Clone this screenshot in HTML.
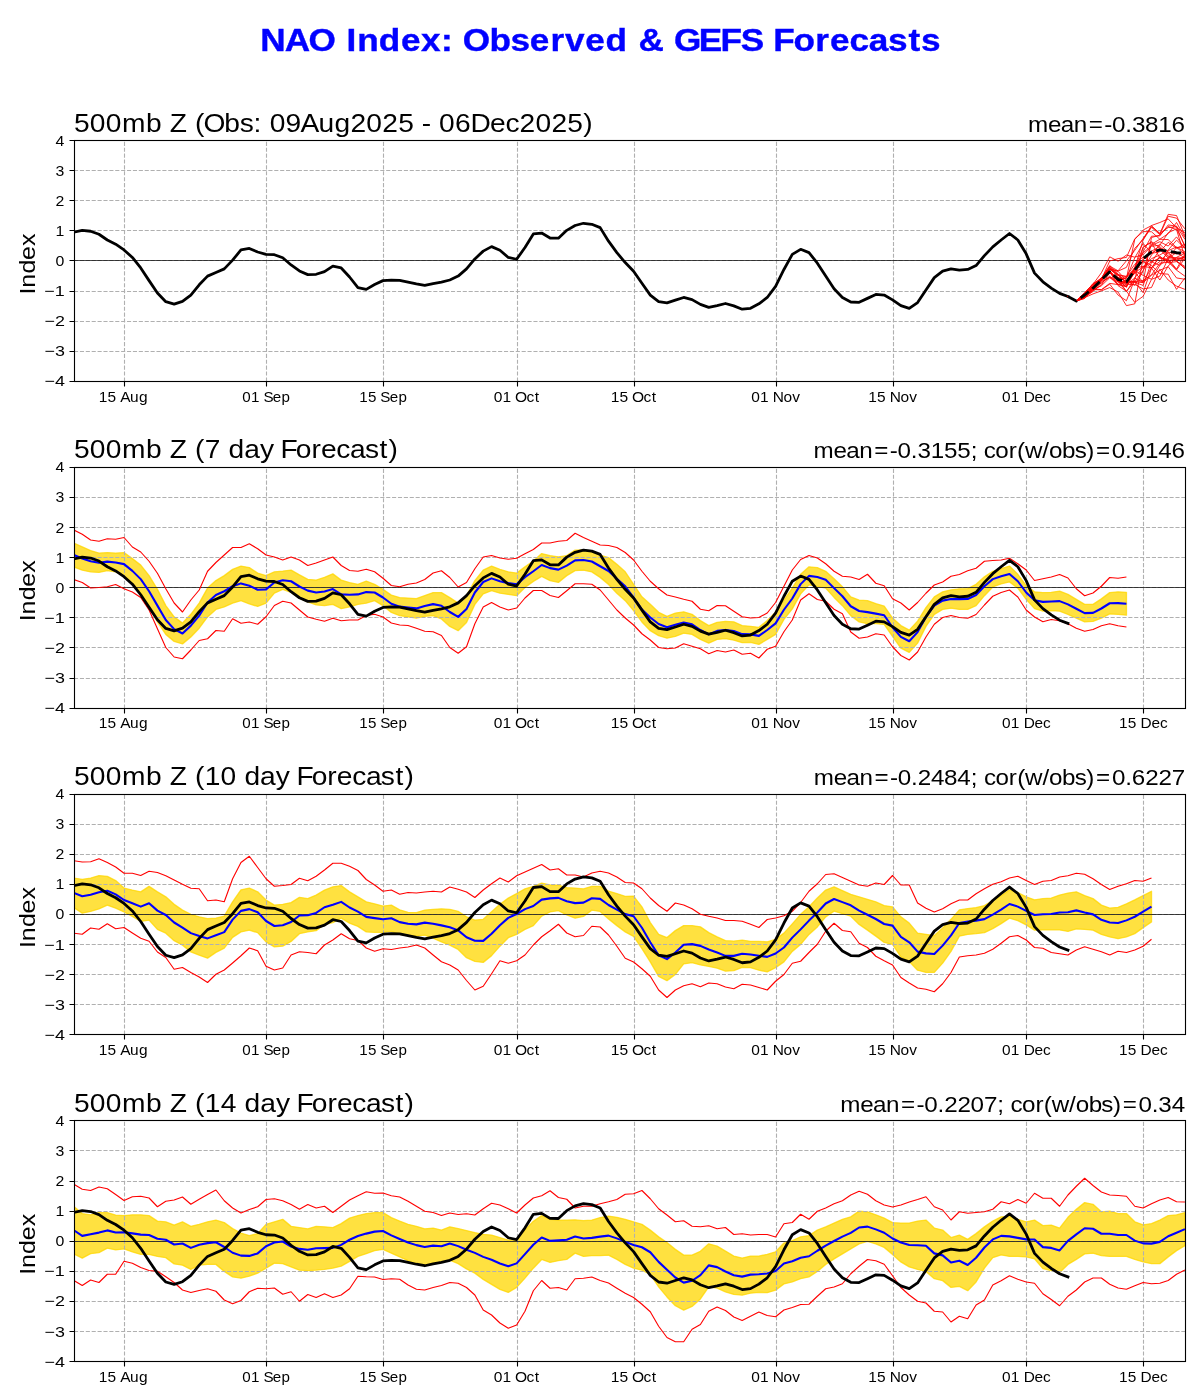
<!DOCTYPE html>
<html><head><meta charset="utf-8"><title>NAO Index: Observed &amp; GEFS Forecasts</title>
<style>html,body{margin:0;padding:0;background:#fff}body{width:1200px;height:1400px;overflow:hidden;font-family:"Liberation Sans",sans-serif}svg{display:block}</style>
</head><body>
<svg width="1200" height="1400" viewBox="0 0 1200 1400">
<rect width="1200" height="1400" fill="#fff"/>
<g>
<clipPath id="c0"><rect x="74" y="140" width="1112" height="241.5"/></clipPath>
<path d="M124.5 381.5V140.5M266.5 381.5V140.5M383.5 381.5V140.5M517.5 381.5V140.5M634.5 381.5V140.5M776.5 381.5V140.5M893.5 381.5V140.5M1026.5 381.5V140.5M1143.5 381.5V140.5M74 170.5H1185M74 200.5H1185M74 230.5H1185M74 260.5H1185M74 291.5H1185M74 321.5H1185M74 351.5H1185" stroke="#b0b0b0" stroke-width="1.11" stroke-dasharray="4.11 1.78" fill="none"/>
<path d="M74 260.5H1186" stroke="#000" stroke-width="0.72"/>
<g clip-path="url(#c0)" fill="none" stroke-linejoin="round">
<polyline points="73.9,232.16 82.25,230.35 90.61,231.25 98.96,234.26 107.31,239.98 115.67,244.2 124.02,249.92 132.37,257.44 140.73,267.98 149.08,280.62 157.43,292.96 165.79,301.69 174.14,304.1 182.49,301.39 190.85,295.07 199.2,284.83 207.55,276.1 215.91,272.49 224.26,268.88 232.61,260.15 240.97,249.92 249.32,248.41 257.67,252.02 266.03,254.43 274.38,254.73 282.73,257.74 291.09,264.97 299.44,270.99 307.79,274.6 316.15,274.3 324.5,271.59 332.85,266.17 341.21,267.98 349.56,277.01 357.92,287.54 366.27,289.35 374.62,284.53 382.98,280.62 391.33,280.02 399.68,280.32 408.04,282.12 416.39,283.93 424.74,285.43 433.1,283.63 441.45,282.12 449.8,280.02 458.16,276.1 466.51,268.88 474.86,258.95 483.22,251.12 491.57,246.6 499.92,250.22 508.28,257.44 516.63,259.25 524.98,247.51 533.34,233.96 541.69,233.06 550.04,238.03 558.4,238.18 566.75,230.35 575.1,225.53 583.46,223.28 591.81,224.33 600.16,227.64 608.52,241.19 616.87,252.62 625.22,262.56 633.58,271.29 641.93,283.33 650.28,295.07 658.64,301.69 666.99,302.89 675.34,300.18 683.7,297.47 692.05,299.58 700.4,304.4 708.76,307.41 717.11,305.6 725.46,303.49 733.82,305.9 742.17,309.21 750.52,308.31 758.88,303.79 767.23,297.47 775.58,286.34 783.94,269.48 792.29,254.43 800.64,249.31 809,252.62 817.35,263.16 825.7,276.1 834.06,288.74 842.41,297.47 850.76,301.99 859.12,302.29 867.47,298.38 875.82,294.46 884.18,295.07 892.53,299.88 900.88,305.6 909.24,308.31 917.59,302.59 925.95,289.95 934.3,277.61 942.65,271.14 951.01,268.88 959.36,270.08 967.71,269.48 976.07,265.57 984.42,255.63 992.77,246.91 1001.13,239.98 1009.48,233.51 1017.83,239.98 1026.19,253.83 1034.54,273.09 1042.89,281.82 1051.25,288.14 1059.6,293.41 1067.95,296.57" stroke="#000" stroke-width="2.78" stroke-linecap="square"/>
<polyline points="1067.95,296.6 1076.31,301 1084.66,296.5 1093.01,288.45 1101.37,281.46 1109.72,277.22 1118.07,284.86 1126.43,286.76 1134.78,270.68 1143.13,275.4 1151.49,279.26 1159.84,265.35 1168.19,258.11 1176.55,247.42 1184.9,247.16" stroke="#f00" stroke-width="0.85"/>
<polyline points="1067.95,296.6 1076.31,301 1084.66,295.09 1093.01,285.21 1101.37,277.72 1109.72,271.09 1118.07,280.54 1126.43,282.87 1134.78,272.5 1143.13,267.01 1151.49,258.61 1159.84,255 1168.19,250.01 1176.55,240.19 1184.9,248.16" stroke="#f00" stroke-width="0.85"/>
<polyline points="1067.95,296.6 1076.31,301 1084.66,297.63 1093.01,293.89 1101.37,290.88 1109.72,287.56 1118.07,292.04 1126.43,305.64 1134.78,303.83 1143.13,258.07 1151.49,251.21 1159.84,246.44 1168.19,256 1176.55,260.34 1184.9,256.94" stroke="#f00" stroke-width="0.85"/>
<polyline points="1067.95,296.6 1076.31,301 1084.66,294.94 1093.01,288.07 1101.37,280.99 1109.72,271.95 1118.07,281.42 1126.43,277.36 1134.78,267.63 1143.13,252.82 1151.49,245.52 1159.84,241.72 1168.19,246.04 1176.55,236.89 1184.9,248.55" stroke="#f00" stroke-width="0.85"/>
<polyline points="1067.95,296.6 1076.31,301 1084.66,293.47 1093.01,284.29 1101.37,278.05 1109.72,266.16 1118.07,270.79 1126.43,260.83 1134.78,250.32 1143.13,238.46 1151.49,226.73 1159.84,233.27 1168.19,227.56 1176.55,226.73 1184.9,246.77" stroke="#f00" stroke-width="0.85"/>
<polyline points="1067.95,296.6 1076.31,301 1084.66,297.23 1093.01,289.37 1101.37,279.73 1109.72,269.15 1118.07,271.11 1126.43,267.36 1134.78,248.33 1143.13,239.48 1151.49,225.5 1159.84,222.49 1168.19,218.9 1176.55,227.82 1184.9,232.62" stroke="#f00" stroke-width="0.85"/>
<polyline points="1067.95,296.6 1076.31,301 1084.66,294.44 1093.01,285.4 1101.37,279.37 1109.72,261 1118.07,258.64 1126.43,257.44 1134.78,238.76 1143.13,231.59 1151.49,231.75 1159.84,239.22 1168.19,233.7 1176.55,222.47 1184.9,237.49" stroke="#f00" stroke-width="0.85"/>
<polyline points="1067.95,296.6 1076.31,301 1084.66,294.39 1093.01,287.9 1101.37,278.49 1109.72,265.48 1118.07,273.79 1126.43,282.62 1134.78,281.84 1143.13,270.5 1151.49,255.04 1159.84,244.33 1168.19,252.15 1176.55,253.91 1184.9,252.24" stroke="#f00" stroke-width="0.85"/>
<polyline points="1067.95,296.6 1076.31,301 1084.66,298.3 1093.01,289.75 1101.37,278.96 1109.72,267.05 1118.07,277.55 1126.43,281.15 1134.78,267.81 1143.13,239.89 1151.49,227.25 1159.84,234.73 1168.19,216.26 1176.55,218.14 1184.9,228.82" stroke="#f00" stroke-width="0.85"/>
<polyline points="1067.95,296.6 1076.31,301 1084.66,296.41 1093.01,288.67 1101.37,279.25 1109.72,269.05 1118.07,274.5 1126.43,283.26 1134.78,281.44 1143.13,280.54 1151.49,274.7 1159.84,263.3 1168.19,262.11 1176.55,258.33 1184.9,259.66" stroke="#f00" stroke-width="0.85"/>
<polyline points="1067.95,296.6 1076.31,301 1084.66,295.09 1093.01,288.14 1101.37,279.1 1109.72,271.68 1118.07,279.37 1126.43,287.18 1134.78,267.73 1143.13,247.44 1151.49,241.6 1159.84,247.97 1168.19,256.87 1176.55,257.68 1184.9,258.14" stroke="#f00" stroke-width="0.85"/>
<polyline points="1067.95,296.6 1076.31,301 1084.66,292.38 1093.01,284.01 1101.37,280.02 1109.72,269.15 1118.07,275.09 1126.43,282.91 1134.78,272.26 1143.13,282.29 1151.49,237.54 1159.84,235.13 1168.19,226.44 1176.55,229.62 1184.9,257.14" stroke="#f00" stroke-width="0.85"/>
<polyline points="1067.95,296.6 1076.31,301 1084.66,296.63 1093.01,288.96 1101.37,289.64 1109.72,283.39 1118.07,284.59 1126.43,281.83 1134.78,281.82 1143.13,292.68 1151.49,268.22 1159.84,256.58 1168.19,261.95 1176.55,270.14 1184.9,276.18" stroke="#f00" stroke-width="0.85"/>
<polyline points="1067.95,296.6 1076.31,301 1084.66,298.41 1093.01,289.16 1101.37,280.19 1109.72,267.32 1118.07,274.48 1126.43,276.83 1134.78,270.16 1143.13,261.63 1151.49,267.97 1159.84,280.03 1168.19,266.07 1176.55,257.29 1184.9,253.23" stroke="#f00" stroke-width="0.85"/>
<polyline points="1067.95,296.6 1076.31,301 1084.66,293.67 1093.01,286.61 1101.37,278.22 1109.72,270.61 1118.07,280.07 1126.43,291.13 1134.78,302.34 1143.13,296.3 1151.49,279.38 1159.84,276.13 1168.19,258.71 1176.55,259.55 1184.9,256.88" stroke="#f00" stroke-width="0.85"/>
<polyline points="1067.95,296.6 1076.31,301 1084.66,294.52 1093.01,288.87 1101.37,280 1109.72,272.88 1118.07,277.69 1126.43,278.09 1134.78,257.77 1143.13,243.46 1151.49,252.95 1159.84,248.29 1168.19,253.61 1176.55,261.41 1184.9,266.43" stroke="#f00" stroke-width="0.85"/>
<polyline points="1067.95,296.6 1076.31,301 1084.66,293.92 1093.01,283.34 1101.37,279.06 1109.72,271.78 1118.07,285.65 1126.43,291.19 1134.78,281.66 1143.13,282.71 1151.49,267.6 1159.84,261.57 1168.19,252.37 1176.55,260.51 1184.9,268.79" stroke="#f00" stroke-width="0.85"/>
<polyline points="1067.95,296.6 1076.31,301 1084.66,294.86 1093.01,286.57 1101.37,278.59 1109.72,269.32 1118.07,275.58 1126.43,276.24 1134.78,264.29 1143.13,256.92 1151.49,261.89 1159.84,265.32 1168.19,250.67 1176.55,247 1184.9,251.9" stroke="#f00" stroke-width="0.85"/>
<polyline points="1067.95,296.6 1076.31,301 1084.66,295.02 1093.01,288.13 1101.37,280.62 1109.72,272.18 1118.07,279.44 1126.43,284.39 1134.78,284.45 1143.13,288.88 1151.49,287.56 1159.84,269.35 1168.19,280.03 1176.55,286.12 1184.9,289.37" stroke="#f00" stroke-width="0.85"/>
<polyline points="1067.95,296.6 1076.31,301 1084.66,295.5 1093.01,288.07 1101.37,279.79 1109.72,271.83 1118.07,280.32 1126.43,283.43 1134.78,267.75 1143.13,261 1151.49,265.55 1159.84,273.58 1168.19,274.17 1176.55,289.37 1184.9,277.93" stroke="#f00" stroke-width="0.85"/>
<polyline points="1067.95,296.6 1076.31,301 1084.66,294.89 1093.01,286.05 1101.37,279.08 1109.72,268.34 1118.07,271.39 1126.43,280.67 1134.78,282.24 1143.13,285.44 1151.49,262.34 1159.84,249.45 1168.19,258.27 1176.55,252.54 1184.9,258.01" stroke="#f00" stroke-width="0.85"/>
<polyline points="1067.95,296.6 1076.31,301 1084.66,295.82 1093.01,289.56 1101.37,289.96 1109.72,284.15 1118.07,295.09 1126.43,300.73 1134.78,279.37 1143.13,246.94 1151.49,242.4 1159.84,258.03 1168.19,259.09 1176.55,269.03 1184.9,254.16" stroke="#f00" stroke-width="0.85"/>
<polyline points="1067.95,296.6 1076.31,301 1084.66,294.93 1093.01,287.16 1101.37,277.91 1109.72,272.14 1118.07,281.06 1126.43,285.07 1134.78,277.87 1143.13,267.38 1151.49,261.92 1159.84,258 1168.19,260.26 1176.55,269.96 1184.9,258.37" stroke="#f00" stroke-width="0.85"/>
<polyline points="1067.95,296.6 1076.31,301 1084.66,294.62 1093.01,288.63 1101.37,281.02 1109.72,271.84 1118.07,282.19 1126.43,281.61 1134.78,273.51 1143.13,259.51 1151.49,253.34 1159.84,251.78 1168.19,242.37 1176.55,248.26 1184.9,244.31" stroke="#f00" stroke-width="0.85"/>
<polyline points="1067.95,296.6 1076.31,301 1084.66,297.5 1093.01,289.38 1101.37,285.8 1109.72,277.74 1118.07,282.04 1126.43,281.12 1134.78,285.44 1143.13,271.17 1151.49,244.22 1159.84,239.26 1168.19,239.58 1176.55,247.56 1184.9,254.15" stroke="#f00" stroke-width="0.85"/>
<polyline points="1067.95,296.6 1076.31,301 1084.66,297.42 1093.01,290.86 1101.37,285.12 1109.72,272.65 1118.07,281.02 1126.43,291.79 1134.78,278.14 1143.13,282.55 1151.49,275.32 1159.84,270.2 1168.19,266.72 1176.55,277.94 1184.9,279.28" stroke="#f00" stroke-width="0.85"/>
<polyline points="1067.95,296.6 1076.31,301 1084.66,293.19 1093.01,284.28 1101.37,272.8 1109.72,256.83 1118.07,261.19 1126.43,255.03 1134.78,257.15 1143.13,254.61 1151.49,246.32 1159.84,245.13 1168.19,232.74 1176.55,228.82 1184.9,245.68" stroke="#f00" stroke-width="0.85"/>
<polyline points="1067.95,296.6 1076.31,301 1084.66,295 1093.01,288.13 1101.37,279.27 1109.72,271.63 1118.07,280.4 1126.43,287.03 1134.78,271.08 1143.13,251.71 1151.49,236.21 1159.84,235.93 1168.19,224.95 1176.55,226.14 1184.9,239.39" stroke="#f00" stroke-width="0.85"/>
<polyline points="1067.95,296.6 1076.31,301 1084.66,296.99 1093.01,291.56 1101.37,282.97 1109.72,276.11 1118.07,284.07 1126.43,286.13 1134.78,268.23 1143.13,266.36 1151.49,267.77 1159.84,256.58 1168.19,262.75 1176.55,261.65 1184.9,267.72" stroke="#f00" stroke-width="0.85"/>
<polyline points="1067.95,296.6 1076.31,301 1084.66,297.03 1093.01,289.07 1101.37,282.87 1109.72,277.18 1118.07,279.13 1126.43,278.4 1134.78,239.41 1143.13,230.02 1151.49,225.61 1159.84,233.67 1168.19,214.36 1176.55,215.56 1184.9,235.92" stroke="#f00" stroke-width="0.85"/>
<polyline points="1067.95,296.6 1076.31,301 1084.66,295 1093.01,288.13 1101.37,280 1109.72,271.87 1118.07,279.37 1126.43,281.87 1134.78,270 1143.13,258.76 1151.49,251.86 1159.84,250 1168.19,251.26 1176.55,252.74 1184.9,253.22" stroke="#000" stroke-width="2.78" stroke-dasharray="10.3 4.45"/>
</g>
<rect x="74.5" y="140.5" width="1111" height="241" fill="none" stroke="#000" stroke-width="1.11"/>
<path d="M124.5 381.5v5M266.5 381.5v5M383.5 381.5v5M517.5 381.5v5M634.5 381.5v5M776.5 381.5v5M893.5 381.5v5M1026.5 381.5v5M1143.5 381.5v5M74.5 140.5h-5M74.5 170.5h-5M74.5 200.5h-5M74.5 230.5h-5M74.5 260.5h-5M74.5 291.5h-5M74.5 321.5h-5M74.5 351.5h-5M74.5 381.5h-5" stroke="#000" stroke-width="1.11" fill="none"/>
</g>
<g>
<clipPath id="c1"><rect x="74" y="467" width="1112" height="241.5"/></clipPath>
<polygon points="73.9,543.1 82.25,546.85 90.61,550.6 98.96,553.1 107.31,552.6 115.67,553.1 124.02,552.6 132.37,558.6 140.73,565.1 149.08,575.6 157.43,589.35 165.79,605.6 174.14,616.85 182.49,623.1 190.85,614.35 199.2,603.1 207.55,588.1 215.91,580.6 224.26,575.6 232.61,569.35 240.97,566.1 249.32,567.6 257.67,573.1 266.03,575.6 274.38,571.85 282.73,571.1 291.09,570.1 299.44,574.85 307.79,579.35 316.15,580.1 324.5,577.35 332.85,573.85 341.21,580.1 349.56,582.6 357.92,584.35 366.27,581.1 374.62,584.35 382.98,589.35 391.33,595.1 399.68,597.6 408.04,598.1 416.39,598.6 424.74,595.6 433.1,592.6 441.45,592.6 449.8,597.6 458.16,603.1 466.51,595.6 474.86,580.6 483.22,570.1 491.57,566.1 499.92,569.35 508.28,571.85 516.63,573.1 524.98,566.85 533.34,561.1 541.69,553.6 550.04,555.6 558.4,556.85 566.75,555.6 575.1,550.1 583.46,549.85 591.81,551.1 600.16,555.1 608.52,557.6 616.87,564.35 625.22,571.85 633.58,584.35 641.93,596.85 650.28,604.35 658.64,612.35 666.99,616.35 675.34,613.1 683.7,611.85 692.05,614.35 700.4,620.6 708.76,625.6 717.11,622.35 725.46,621.35 733.82,621.85 742.17,625.6 750.52,626.35 758.88,627.35 767.23,620.6 775.58,612.35 783.94,600.1 792.29,588.1 800.64,574.35 809,566.85 817.35,567.6 825.7,571.35 834.06,578.85 842.41,586.85 850.76,596.85 859.12,600.1 867.47,600.6 875.82,603.6 884.18,606.1 892.53,618.1 900.88,625.6 909.24,630.1 917.59,621.1 925.95,607.6 934.3,596.85 942.65,591.85 951.01,589.85 959.36,588.85 967.71,588.6 976.07,584.35 984.42,576.85 992.77,571.35 1001.13,568.6 1009.48,566.1 1017.83,574.35 1026.19,585.6 1034.54,591.85 1042.89,592.6 1051.25,592.35 1059.6,591.1 1067.95,594.35 1076.31,599.35 1084.66,604.35 1093.01,604.35 1101.37,598.85 1109.72,592.6 1118.07,591.85 1126.43,592.35 1126.43,615.15 1118.07,614.4 1109.72,613.9 1101.37,618.15 1093.01,621.4 1084.66,621.9 1076.31,618.15 1067.95,614.4 1059.6,611.15 1051.25,610.65 1042.89,611.15 1034.54,608.65 1026.19,599.4 1017.83,588.15 1009.48,581.9 1001.13,583.9 992.77,586.9 984.42,595.65 976.07,605.65 967.71,609.4 959.36,609.4 951.01,608.15 942.65,609.4 934.3,614.4 925.95,626.4 917.59,643.15 909.24,652.4 900.88,648.15 892.53,636.4 884.18,624.4 875.82,623.65 867.47,623.65 859.12,621.9 850.76,615.65 842.41,605.65 834.06,597.4 825.7,588.15 817.35,586.4 809,584.9 800.64,593.9 792.29,608.9 783.94,619.4 775.58,634.4 767.23,639.4 758.88,644.4 750.52,642.4 742.17,642.65 733.82,640.15 725.46,638.65 717.11,639.4 708.76,643.15 700.4,639.4 692.05,634.4 683.7,633.15 675.34,636.4 666.99,638.15 658.64,635.65 650.28,630.65 641.93,621.9 633.58,610.65 625.22,600.65 616.87,593.15 608.52,584.4 600.16,577.4 591.81,571.9 583.46,570.15 575.1,570.65 566.75,575.65 558.4,582.4 550.04,580.65 541.69,576.4 533.34,581.4 524.98,587.4 516.63,595.65 508.28,594.4 499.92,593.15 491.57,590.65 483.22,593.9 474.86,604.4 466.51,622.4 458.16,630.65 449.8,626.4 441.45,618.9 433.1,615.65 424.74,616.4 416.39,618.15 408.04,616.9 399.68,615.65 391.33,612.4 382.98,605.65 374.62,600.65 366.27,603.15 357.92,604.4 349.56,606.9 341.21,608.65 332.85,604.4 324.5,605.65 316.15,604.9 307.79,601.9 299.44,598.15 291.09,592.4 282.73,589.4 274.38,593.15 266.03,603.15 257.67,606.4 249.32,603.9 240.97,600.65 232.61,603.15 224.26,606.9 215.91,609.4 207.55,616.9 199.2,628.15 190.85,636.9 182.49,643.9 174.14,641.4 165.79,634.4 157.43,621.9 149.08,606.9 140.73,593.15 132.37,583.15 124.02,575.65 115.67,571.9 107.31,570.65 98.96,572.4 90.61,571.9 82.25,570.15 73.9,566.9" fill="#ffd700" fill-opacity="0.75" stroke="#ffd700" stroke-opacity="0.75" stroke-width="1.39" stroke-linejoin="round" clip-path="url(#c1)"/>
<path d="M124.5 708.5V467.5M266.5 708.5V467.5M383.5 708.5V467.5M517.5 708.5V467.5M634.5 708.5V467.5M776.5 708.5V467.5M893.5 708.5V467.5M1026.5 708.5V467.5M1143.5 708.5V467.5M74 497.5H1185M74 527.5H1185M74 557.5H1185M74 587.5H1185M74 617.5H1185M74 647.5H1185M74 678.5H1185" stroke="#b0b0b0" stroke-width="1.11" stroke-dasharray="4.11 1.78" fill="none"/>
<path d="M74 587.5H1186" stroke="#000" stroke-width="0.72"/>
<g clip-path="url(#c1)" fill="none" stroke-linejoin="round">
<polyline points="73.9,530 82.25,534.25 90.61,540 98.96,541.25 107.31,538.75 115.67,539.25 124.02,537.5 132.37,547 140.73,552 149.08,561.25 157.43,573.25 165.79,588.75 174.14,603 182.49,612 190.85,600 199.2,590 207.55,571.25 215.91,562.5 224.26,555 232.61,547.5 240.97,547.5 249.32,543.75 257.67,548.75 266.03,555 274.38,557 282.73,560 291.09,557 299.44,560 307.79,565.5 316.15,563 324.5,560 332.85,557 341.21,565.5 349.56,570.5 357.92,571.25 366.27,569.25 374.62,571.75 382.98,578.25 391.33,585.5 399.68,586.75 408.04,584.25 416.39,583 424.74,579.5 433.1,573 441.45,570.75 449.8,577.5 458.16,587 466.51,582.5 474.86,568.75 483.22,557 491.57,555.5 499.92,558 508.28,559.25 516.63,558.25 524.98,553.75 533.34,549.5 541.69,543 550.04,543 558.4,541.25 566.75,540.5 575.1,533.25 583.46,537.5 591.81,541.25 600.16,545 608.52,545.5 616.87,547.5 625.22,552.5 633.58,560 641.93,571.25 650.28,581.25 658.64,588.75 666.99,595 675.34,597 683.7,599.25 692.05,601.25 700.4,609.25 708.76,610.75 717.11,605.5 725.46,605.75 733.82,611.25 742.17,616.75 750.52,618 758.88,617.5 767.23,613 775.58,602.5 783.94,586.25 792.29,570 800.64,559.5 809,555.5 817.35,558 825.7,563.75 834.06,571.25 842.41,576.25 850.76,577 859.12,579.5 867.47,574.25 875.82,583.25 884.18,585.75 892.53,598.75 900.88,603 909.24,610 917.59,602.5 925.95,593.25 934.3,585 942.65,582 951.01,576.25 959.36,574.5 967.71,570.75 976.07,568.25 984.42,561.25 992.77,560.5 1001.13,560 1009.48,558.25 1017.83,563.75 1026.19,570 1034.54,580.5 1042.89,578.75 1051.25,577 1059.6,574.5 1067.95,578 1076.31,588.75 1084.66,595.75 1093.01,593 1101.37,586.25 1109.72,577.5 1118.07,578.25 1126.43,577" stroke="#f00" stroke-width="1.11"/>
<polyline points="73.9,579.5 82.25,582.5 90.61,588 98.96,587.5 107.31,586.75 115.67,584.5 124.02,588.75 132.37,592 140.73,597.5 149.08,610 157.43,628.75 165.79,647.5 174.14,657 182.49,658.75 190.85,650 199.2,640.5 207.55,638.75 215.91,630.5 224.26,631.25 232.61,618.75 240.97,623.25 249.32,622 257.67,624.25 266.03,616.75 274.38,605.5 282.73,601.25 291.09,603 299.44,610 307.79,617 316.15,619.25 324.5,621.25 332.85,618.25 341.21,620.75 349.56,620 357.92,620 366.27,615.5 374.62,614.25 382.98,617 391.33,623 399.68,625 408.04,625.5 416.39,628.25 424.74,631.25 433.1,631.75 441.45,635.5 449.8,647.5 458.16,653.25 466.51,646.75 474.86,623.75 483.22,607 491.57,602.5 499.92,607 508.28,610 516.63,608 524.98,598 533.34,590.5 541.69,590.5 550.04,595.5 558.4,597.5 566.75,590.75 575.1,583.75 583.46,583.75 591.81,584.25 600.16,590 608.52,600 616.87,610 625.22,618 633.58,625 641.93,633.75 650.28,640 658.64,647.5 666.99,648.75 675.34,648 683.7,643.75 692.05,646.25 700.4,648.75 708.76,653.75 717.11,650.5 725.46,652 733.82,650 742.17,654.25 750.52,653.25 758.88,658 767.23,649.25 775.58,646.25 783.94,631.75 792.29,620 800.64,600 809,593.75 817.35,599.5 825.7,601.25 834.06,609.25 842.41,613.75 850.76,632 859.12,638.25 867.47,637 875.82,633.75 884.18,635 892.53,646.75 900.88,655.5 909.24,660 917.59,652 925.95,637 934.3,624.25 942.65,617.5 951.01,615.5 959.36,617.5 967.71,618.25 976.07,614.5 984.42,605 992.77,596.25 1001.13,592.5 1009.48,590 1017.83,597 1026.19,610 1034.54,617 1042.89,621.75 1051.25,619.5 1059.6,620.75 1067.95,623.75 1076.31,628.25 1084.66,631.25 1093.01,629.5 1101.37,625.75 1109.72,623.75 1118.07,625.75 1126.43,627" stroke="#f00" stroke-width="1.11"/>
<polyline points="73.9,555 82.25,558.5 90.61,561.25 98.96,562.75 107.31,561.62 115.67,562.5 124.02,564.12 132.37,570.88 140.73,579.12 149.08,591.25 157.43,605.62 165.79,620 174.14,629.12 182.49,633.5 190.85,625.62 199.2,615.62 207.55,602.5 215.91,595 224.26,591.25 232.61,586.25 240.97,583.38 249.32,585.75 257.67,589.75 266.03,589.38 274.38,582.5 282.73,580.25 291.09,581.25 299.44,586.5 307.79,590.62 316.15,592.5 324.5,591.5 332.85,589.12 341.21,594.38 349.56,594.75 357.92,594.38 366.27,592.12 374.62,592.5 382.98,597.5 391.33,603.75 399.68,606.62 408.04,607.5 416.39,608.38 424.74,606 433.1,604.12 441.45,605.75 449.8,612 458.16,616.88 466.51,609 474.86,592.5 483.22,582 491.57,578.38 499.92,581.25 508.28,583.12 516.63,584.38 524.98,577.12 533.34,571.25 541.69,565 550.04,568.12 558.4,569.62 566.75,565.62 575.1,560.38 583.46,560 591.81,561.5 600.16,566.25 608.52,571 616.87,578.75 625.22,586.25 633.58,597.5 641.93,609.38 650.28,617.5 658.64,624 666.99,627.25 675.34,624.75 683.7,622.5 692.05,624.38 700.4,630 708.76,634.38 717.11,630.88 725.46,630 733.82,631 742.17,634.12 750.52,634.38 758.88,635.88 767.23,630 775.58,623.38 783.94,609.75 792.29,598.5 800.64,584.12 809,575.88 817.35,577 825.7,579.75 834.06,588.12 842.41,596.25 850.76,606.25 859.12,611 867.47,612.12 875.82,613.62 884.18,615.25 892.53,627.25 900.88,636.88 909.24,641.25 917.59,632.12 925.95,617 934.3,605.62 942.65,600.62 951.01,599 959.36,599.12 967.71,599 976.07,595 984.42,586.25 992.77,579.12 1001.13,576.25 1009.48,574 1017.83,581.25 1026.19,592.5 1034.54,600.25 1042.89,601.88 1051.25,601.5 1059.6,601.12 1067.95,604.38 1076.31,608.75 1084.66,613.12 1093.01,612.88 1101.37,608.5 1109.72,603.25 1118.07,603.12 1126.43,603.75" stroke="#00f" stroke-width="2.08"/>
<polyline points="73.9,558.93 82.25,557.12 90.61,558.02 98.96,561.03 107.31,566.75 115.67,570.97 124.02,576.69 132.37,584.21 140.73,594.75 149.08,607.39 157.43,619.73 165.79,628.46 174.14,630.87 182.49,628.16 190.85,621.84 199.2,611.6 207.55,602.87 215.91,599.26 224.26,595.65 232.61,586.92 240.97,576.69 249.32,575.18 257.67,578.79 266.03,581.2 274.38,581.5 282.73,584.51 291.09,591.74 299.44,597.75 307.79,601.37 316.15,601.07 324.5,598.36 332.85,592.94 341.21,594.75 349.56,603.77 357.92,614.31 366.27,616.12 374.62,611.3 382.98,607.39 391.33,606.79 399.68,607.09 408.04,608.89 416.39,610.7 424.74,612.2 433.1,610.4 441.45,608.89 449.8,606.79 458.16,602.87 466.51,595.65 474.86,585.72 483.22,577.89 491.57,573.37 499.92,576.99 508.28,584.21 516.63,586.02 524.98,574.28 533.34,560.73 541.69,559.83 550.04,564.8 558.4,564.95 566.75,557.12 575.1,552.3 583.46,550.05 591.81,551.1 600.16,554.41 608.52,567.96 616.87,579.39 625.22,589.33 633.58,598.06 641.93,610.1 650.28,621.84 658.64,628.46 666.99,629.66 675.34,626.95 683.7,624.24 692.05,626.35 700.4,631.17 708.76,634.18 717.11,632.37 725.46,630.26 733.82,632.67 742.17,635.98 750.52,635.08 758.88,630.56 767.23,624.24 775.58,613.11 783.94,596.25 792.29,581.2 800.64,576.08 809,579.39 817.35,589.93 825.7,602.87 834.06,615.51 842.41,624.24 850.76,628.76 859.12,629.06 867.47,625.15 875.82,621.23 884.18,621.84 892.53,626.65 900.88,632.37 909.24,635.08 917.59,629.36 925.95,616.72 934.3,604.38 942.65,597.91 951.01,595.65 959.36,596.85 967.71,596.25 976.07,592.34 984.42,582.4 992.77,573.68 1001.13,566.75 1009.48,560.28 1017.83,566.75 1026.19,580.6 1034.54,599.86 1042.89,608.59 1051.25,614.91 1059.6,620.18 1067.95,623.34" stroke="#000" stroke-width="2.78" stroke-linecap="square"/>
</g>
<rect x="74.5" y="467.5" width="1111" height="241" fill="none" stroke="#000" stroke-width="1.11"/>
<path d="M124.5 708.5v5M266.5 708.5v5M383.5 708.5v5M517.5 708.5v5M634.5 708.5v5M776.5 708.5v5M893.5 708.5v5M1026.5 708.5v5M1143.5 708.5v5M74.5 467.5h-5M74.5 497.5h-5M74.5 527.5h-5M74.5 557.5h-5M74.5 587.5h-5M74.5 617.5h-5M74.5 647.5h-5M74.5 678.5h-5M74.5 708.5h-5" stroke="#000" stroke-width="1.11" fill="none"/>
</g>
<g>
<clipPath id="c2"><rect x="74" y="794" width="1112" height="240.5"/></clipPath>
<polygon points="73.9,878.1 82.25,879.35 90.61,878.1 98.96,875.6 107.31,876.35 115.67,880.6 124.02,888.1 132.37,890.1 140.73,891.85 149.08,886.35 157.43,891.85 165.79,896.85 174.14,904.35 182.49,910.1 190.85,914.35 199.2,916.85 207.55,918.6 215.91,918.1 224.26,916.1 232.61,901.85 240.97,889.85 249.32,888.1 257.67,891.85 266.03,900.1 274.38,905.1 282.73,904.35 291.09,902.6 299.44,897.35 307.79,898.6 316.15,895.1 324.5,890.1 332.85,886.85 341.21,885.6 349.56,891.85 357.92,896.85 366.27,901.85 374.62,903.85 382.98,906.1 391.33,905.1 399.68,909.85 408.04,912.35 416.39,912.6 424.74,910.1 433.1,909.35 441.45,908.85 449.8,909.35 458.16,911.35 466.51,916.85 474.86,920.1 483.22,919.35 491.57,911.85 499.92,904.35 508.28,898.1 516.63,893.6 524.98,888.85 533.34,886.35 541.69,883.1 550.04,884.85 558.4,885.1 566.75,887.6 575.1,888.1 583.46,888.85 591.81,886.35 600.16,886.35 608.52,891.1 616.87,893.6 625.22,896.35 633.58,896.1 641.93,906.85 650.28,922.6 658.64,934.35 666.99,937.6 675.34,930.6 683.7,925.6 692.05,925.6 700.4,926.85 708.76,932.6 717.11,936.85 725.46,940.6 733.82,941.1 742.17,940.1 750.52,941.35 758.88,941.35 767.23,941.85 775.58,939.35 783.94,933.1 792.29,923.85 800.64,914.35 809,906.85 817.35,898.1 825.7,890.1 834.06,886.85 842.41,890.6 850.76,894.35 859.12,896.85 867.47,899.35 875.82,901.85 884.18,905.6 892.53,906.85 900.88,916.85 909.24,923.1 917.59,933.1 925.95,934.35 934.3,935.6 942.65,928.1 951.01,919.35 959.36,909.85 967.71,908.6 976.07,907.6 984.42,905.6 992.77,900.6 1001.13,895.6 1009.48,889.85 1017.83,892.6 1026.19,896.85 1034.54,899.85 1042.89,898.6 1051.25,898.1 1059.6,895.1 1067.95,893.1 1076.31,891.85 1084.66,895.6 1093.01,898.6 1101.37,905.1 1109.72,908.1 1118.07,907.35 1126.43,903.85 1134.78,899.85 1143.13,895.6 1151.49,891.35 1151.49,921.9 1143.13,927.65 1134.78,933.65 1126.43,936.9 1118.07,938.65 1109.72,936.9 1101.37,934.4 1093.01,930.15 1084.66,929.4 1076.31,928.9 1067.95,931.4 1059.6,929.9 1051.25,929.9 1042.89,929.9 1034.54,930.15 1026.19,924.9 1017.83,920.65 1009.48,918.15 1001.13,923.65 992.77,928.65 984.42,932.65 976.07,933.65 967.71,934.4 959.36,936.15 951.01,951.4 942.65,963.15 934.3,972.4 925.95,972.4 917.59,970.15 909.24,961.4 900.88,956.9 892.53,944.4 884.18,942.4 875.82,936.15 867.47,930.15 859.12,924.4 850.76,916.15 842.41,913.65 834.06,911.15 825.7,916.9 817.35,926.9 809,934.4 800.64,944.4 792.29,951.4 783.94,961.9 775.58,967.65 767.23,971.9 758.88,970.15 750.52,967.65 742.17,967.4 733.82,970.65 725.46,971.15 717.11,968.15 708.76,966.4 700.4,964.9 692.05,962.65 683.7,963.9 675.34,974.4 666.99,980.65 658.64,976.4 650.28,961.9 641.93,948.65 633.58,936.4 625.22,931.9 616.87,925.65 608.52,918.9 600.16,911.4 591.81,910.15 583.46,916.4 575.1,918.15 566.75,914.9 558.4,910.65 550.04,911.9 541.69,916.15 533.34,925.65 524.98,929.4 516.63,934.4 508.28,937.65 499.92,946.15 491.57,955.65 483.22,962.4 474.86,961.4 466.51,957.65 458.16,949.4 449.8,945.15 441.45,941.9 433.1,938.15 424.74,935.15 416.39,936.15 408.04,935.15 399.68,934.4 391.33,931.4 382.98,932.4 374.62,932.4 366.27,931.9 357.92,926.4 349.56,923.15 341.21,918.15 332.85,922.65 324.5,924.4 316.15,930.65 307.79,931.9 299.44,933.65 291.09,941.4 282.73,946.15 274.38,946.9 266.03,941.9 257.67,932.65 249.32,930.15 240.97,931.9 232.61,937.4 224.26,948.15 215.91,952.4 207.55,958.15 199.2,955.15 190.85,951.9 182.49,945.15 174.14,940.65 165.79,933.15 157.43,929.4 149.08,920.15 140.73,921.4 132.37,916.4 124.02,911.9 115.67,908.15 107.31,905.15 98.96,908.9 90.61,911.4 82.25,913.15 73.9,907.65" fill="#ffd700" fill-opacity="0.75" stroke="#ffd700" stroke-opacity="0.75" stroke-width="1.39" stroke-linejoin="round" clip-path="url(#c2)"/>
<path d="M124.5 1034.5V794.5M266.5 1034.5V794.5M383.5 1034.5V794.5M517.5 1034.5V794.5M634.5 1034.5V794.5M776.5 1034.5V794.5M893.5 1034.5V794.5M1026.5 1034.5V794.5M1143.5 1034.5V794.5M74 824.5H1185M74 854.5H1185M74 884.5H1185M74 914.5H1185M74 944.5H1185M74 974.5H1185M74 1004.5H1185" stroke="#b0b0b0" stroke-width="1.11" stroke-dasharray="4.11 1.78" fill="none"/>
<path d="M74 914.5H1186" stroke="#000" stroke-width="0.72"/>
<g clip-path="url(#c2)" fill="none" stroke-linejoin="round">
<polyline points="73.9,860.75 82.25,862 90.61,861.75 98.96,858.75 107.31,862.5 115.67,867 124.02,873.25 132.37,873.25 140.73,875.5 149.08,871.25 157.43,872.5 165.79,875.75 174.14,880 182.49,884.25 190.85,888.25 199.2,888.75 207.55,900.75 215.91,900 224.26,901.75 232.61,878.75 240.97,862.5 249.32,856.25 257.67,867.5 266.03,878.75 274.38,886.25 282.73,885.5 291.09,884.5 299.44,878.25 307.79,880.75 316.15,876.25 324.5,870 332.85,863.25 341.21,863.25 349.56,866.25 357.92,870.5 366.27,879.5 374.62,885 382.98,891.25 391.33,890 399.68,894.25 408.04,892.5 416.39,893 424.74,892 433.1,891.25 441.45,892 449.8,887 458.16,889.25 466.51,892 474.86,897.5 483.22,890 491.57,883.75 499.92,878 508.28,882 516.63,875.75 524.98,872 533.34,868.25 541.69,864.5 550.04,870 558.4,868.75 566.75,875 575.1,875 583.46,877 591.81,873 600.16,871.25 608.52,873 616.87,877 625.22,882.5 633.58,883 641.93,888.75 650.28,898 658.64,905.5 666.99,911.25 675.34,903 683.7,905 692.05,908.75 700.4,914.25 708.76,916.25 717.11,918 725.46,920.5 733.82,920.5 742.17,921.25 750.52,924.25 758.88,927.5 767.23,919.5 775.58,918 783.94,915.75 792.29,911.25 800.64,902.5 809,891.25 817.35,883.75 825.7,874.5 834.06,873.75 842.41,877.5 850.76,881.25 859.12,885 867.47,886.25 875.82,883 884.18,884.5 892.53,875.5 900.88,885 909.24,885 917.59,903 925.95,908.25 934.3,912 942.65,908.75 951.01,903.75 959.36,900 967.71,900 976.07,893.75 984.42,888.75 992.77,884.25 1001.13,881.75 1009.48,878 1017.83,876.25 1026.19,880.5 1034.54,884.5 1042.89,881.25 1051.25,880.5 1059.6,877 1067.95,875.75 1076.31,873.25 1084.66,874.25 1093.01,878.75 1101.37,884.5 1109.72,889.5 1118.07,886.25 1126.43,883.75 1134.78,880.5 1143.13,881.25 1151.49,878" stroke="#f00" stroke-width="1.11"/>
<polyline points="73.9,933.25 82.25,934.25 90.61,928 98.96,929.25 107.31,923.75 115.67,928.75 124.02,927.5 132.37,933 140.73,938.25 149.08,941.25 157.43,952 165.79,957.5 174.14,969.25 182.49,967.5 190.85,972.5 199.2,977 207.55,982.5 215.91,974.25 224.26,970 232.61,963 240.97,955.75 249.32,948 257.67,950.75 266.03,966.25 274.38,970 282.73,968 291.09,955 299.44,951.75 307.79,952.5 316.15,953.75 324.5,945 332.85,940 341.21,933.75 349.56,938.75 357.92,940.5 366.27,948 374.62,951.25 382.98,948.75 391.33,949.5 399.68,948 408.04,947 416.39,945 424.74,948 433.1,955 441.45,961.75 449.8,965 458.16,970 466.51,980.5 474.86,990 483.22,986.25 491.57,973.75 499.92,960.75 508.28,963.25 516.63,960.75 524.98,955 533.34,945 541.69,936.75 550.04,930.75 558.4,924.25 566.75,933 575.1,936.75 583.46,935.5 591.81,926.25 600.16,927 608.52,935 616.87,946.25 625.22,958.25 633.58,962 641.93,968.75 650.28,976.25 658.64,990 666.99,997.5 675.34,990 683.7,985.75 692.05,983.75 700.4,986.75 708.76,983 717.11,983.75 725.46,987 733.82,988.75 742.17,984.25 750.52,985 758.88,987.5 767.23,990 775.58,981.25 783.94,974.5 792.29,963.25 800.64,961.25 809,952.5 817.35,944.25 825.7,931.25 834.06,923.25 842.41,930.5 850.76,931.75 859.12,943.25 867.47,947.5 875.82,956.25 884.18,960.75 892.53,965 900.88,977.5 909.24,983 917.59,988 925.95,989.25 934.3,991.75 942.65,983.75 951.01,972.5 959.36,957 967.71,955.75 976.07,955 984.42,953.25 992.77,949.25 1001.13,943.25 1009.48,936.75 1017.83,935.5 1026.19,940 1034.54,947.5 1042.89,948.25 1051.25,952.5 1059.6,953.75 1067.95,955 1076.31,950 1084.66,946.75 1093.01,949.25 1101.37,951.75 1109.72,955 1118.07,951.25 1126.43,952.5 1134.78,950 1143.13,946.25 1151.49,939.25" stroke="#f00" stroke-width="1.11"/>
<polyline points="73.9,892.88 82.25,896.25 90.61,894.75 98.96,892.25 107.31,890.75 115.67,894.38 124.02,900 132.37,903.25 140.73,906.62 149.08,903.25 157.43,910.62 165.79,915 174.14,922.5 182.49,927.62 190.85,933.12 199.2,936 207.55,938.38 215.91,935.25 224.26,932.12 232.61,919.62 240.97,910.88 249.32,909.12 257.67,912.25 266.03,921 274.38,926 282.73,925.25 291.09,922 299.44,915.5 307.79,915.25 316.15,912.88 324.5,907.25 332.85,904.75 341.21,901.88 349.56,907.5 357.92,911.62 366.27,916.88 374.62,918.12 382.98,919.25 391.33,918.25 399.68,922.12 408.04,923.75 416.39,924.38 424.74,922.62 433.1,923.75 441.45,925.38 449.8,927.25 458.16,930.38 466.51,937.25 474.86,940.75 483.22,940.88 491.57,933.75 499.92,925.25 508.28,917.88 516.63,914 524.98,909.12 533.34,906 541.69,899.62 550.04,898.38 558.4,897.88 566.75,901.25 575.1,903.12 583.46,902.62 591.81,898.25 600.16,898.88 608.52,905 616.87,909.62 625.22,914.12 633.58,916.25 641.93,927.75 650.28,942.25 658.64,955.38 666.99,959.12 675.34,952.5 683.7,944.75 692.05,944.12 700.4,945.88 708.76,949.5 717.11,952.5 725.46,955.88 733.82,955.88 742.17,953.75 750.52,954.5 758.88,955.75 767.23,956.88 775.58,953.5 783.94,947.5 792.29,937.62 800.64,929.38 809,920.62 817.35,912.5 825.7,903.5 834.06,899 842.41,902.12 850.76,905.25 859.12,910.62 867.47,914.75 875.82,919 884.18,924 892.53,925.62 900.88,936.88 909.24,942.25 917.59,951.62 925.95,953.38 934.3,954 942.65,945.62 951.01,935.38 959.36,923 967.71,921.5 976.07,920.62 984.42,919.12 992.77,914.62 1001.13,909.62 1009.48,904 1017.83,906.62 1026.19,910.88 1034.54,915 1042.89,914.25 1051.25,914 1059.6,912.5 1067.95,912.25 1076.31,910.38 1084.66,912.5 1093.01,914.38 1101.37,919.75 1109.72,922.5 1118.07,923 1126.43,920.38 1134.78,916.75 1143.13,911.62 1151.49,906.62" stroke="#00f" stroke-width="2.08"/>
<polyline points="73.9,885.7 82.25,883.89 90.61,884.79 98.96,887.8 107.31,893.52 115.67,897.74 124.02,903.46 132.37,910.98 140.73,921.51 149.08,934.16 157.43,946.5 165.79,955.23 174.14,957.63 182.49,954.93 190.85,948.61 199.2,938.37 207.55,929.64 215.91,926.03 224.26,922.42 232.61,913.69 240.97,903.46 249.32,901.95 257.67,905.56 266.03,907.97 274.38,908.27 282.73,911.28 291.09,918.5 299.44,924.52 307.79,928.14 316.15,927.84 324.5,925.13 332.85,919.71 341.21,921.51 349.56,930.54 357.92,941.08 366.27,942.89 374.62,938.07 382.98,934.16 391.33,933.56 399.68,933.86 408.04,935.66 416.39,937.47 424.74,938.97 433.1,937.17 441.45,935.66 449.8,933.56 458.16,929.64 466.51,922.42 474.86,912.49 483.22,904.66 491.57,900.14 499.92,903.76 508.28,910.98 516.63,912.79 524.98,901.05 533.34,887.5 541.69,886.6 550.04,891.57 558.4,891.72 566.75,883.89 575.1,879.07 583.46,876.82 591.81,877.87 600.16,881.18 608.52,894.73 616.87,906.16 625.22,916.1 633.58,924.83 641.93,936.87 650.28,948.61 658.64,955.23 666.99,956.43 675.34,953.72 683.7,951.01 692.05,953.12 700.4,957.94 708.76,960.95 717.11,959.14 725.46,957.03 733.82,959.44 742.17,962.75 750.52,961.85 758.88,957.33 767.23,951.01 775.58,939.88 783.94,923.02 792.29,907.97 800.64,902.85 809,906.16 817.35,916.7 825.7,929.64 834.06,942.28 842.41,951.01 850.76,955.53 859.12,955.83 867.47,951.92 875.82,948 884.18,948.61 892.53,953.42 900.88,959.14 909.24,961.85 917.59,956.13 925.95,943.49 934.3,931.15 942.65,924.68 951.01,922.42 959.36,923.62 967.71,923.02 976.07,919.11 984.42,909.17 992.77,900.45 1001.13,893.52 1009.48,887.05 1017.83,893.52 1026.19,907.37 1034.54,926.63 1042.89,935.36 1051.25,941.68 1059.6,946.95 1067.95,950.11" stroke="#000" stroke-width="2.78" stroke-linecap="square"/>
</g>
<rect x="74.5" y="794.5" width="1111" height="240" fill="none" stroke="#000" stroke-width="1.11"/>
<path d="M124.5 1034.5v5M266.5 1034.5v5M383.5 1034.5v5M517.5 1034.5v5M634.5 1034.5v5M776.5 1034.5v5M893.5 1034.5v5M1026.5 1034.5v5M1143.5 1034.5v5M74.5 794.5h-5M74.5 824.5h-5M74.5 854.5h-5M74.5 884.5h-5M74.5 914.5h-5M74.5 944.5h-5M74.5 974.5h-5M74.5 1004.5h-5M74.5 1034.5h-5" stroke="#000" stroke-width="1.11" fill="none"/>
</g>
<g>
<clipPath id="c3"><rect x="74" y="1120" width="1112" height="241.5"/></clipPath>
<polygon points="73.9,1206.6 82.25,1213.6 90.61,1214.85 98.96,1212.6 107.31,1212.6 115.67,1215.1 124.02,1215.6 132.37,1214.85 140.73,1214.85 149.08,1215.6 157.43,1221.1 165.79,1221.85 174.14,1225.1 182.49,1221.85 190.85,1226.35 199.2,1224.35 207.55,1221.85 215.91,1220.1 224.26,1222.6 232.61,1228.6 240.97,1233.1 249.32,1235.6 257.67,1233.6 266.03,1224.35 274.38,1221.85 282.73,1219.35 291.09,1226.35 299.44,1227.6 307.79,1228.85 316.15,1226.35 324.5,1226.85 332.85,1227.6 341.21,1223.6 349.56,1218.1 357.92,1215.6 366.27,1213.6 374.62,1212.6 382.98,1212.6 391.33,1217.6 399.68,1221.1 408.04,1224.35 416.39,1226.35 424.74,1228.85 433.1,1228.1 441.45,1230.1 449.8,1226.85 458.16,1228.6 466.51,1230.6 474.86,1232.6 483.22,1234.35 491.57,1235.1 499.92,1237.6 508.28,1240.1 516.63,1239.35 524.98,1230.1 533.34,1221.35 541.69,1215.6 550.04,1219.35 558.4,1220.1 566.75,1220.1 575.1,1219.85 583.46,1220.6 591.81,1220.1 600.16,1217.6 608.52,1216.1 616.87,1217.35 625.22,1219.35 633.58,1221.85 641.93,1224.35 650.28,1230.1 658.64,1236.85 666.99,1242.6 675.34,1249.35 683.7,1255.1 692.05,1255.1 700.4,1251.35 708.76,1243.85 717.11,1246.1 725.46,1251.1 733.82,1256.1 742.17,1258.1 750.52,1256.1 758.88,1256.1 767.23,1254.35 775.58,1251.85 783.94,1243.1 792.29,1240.6 800.64,1236.85 809,1235.6 817.35,1230.1 825.7,1226.85 834.06,1223.1 842.41,1219.35 850.76,1216.85 859.12,1211.1 867.47,1211.85 875.82,1214.85 884.18,1218.1 892.53,1222.6 900.88,1223.1 909.24,1223.1 917.59,1221.1 925.95,1220.1 934.3,1228.1 942.65,1230.1 951.01,1237.6 959.36,1235.1 967.71,1239.35 976.07,1233.6 984.42,1226.85 992.77,1221.1 1001.13,1216.85 1009.48,1216.35 1017.83,1219.35 1026.19,1221.85 1034.54,1220.1 1042.89,1225.6 1051.25,1225.1 1059.6,1228.1 1067.95,1217.35 1076.31,1209.35 1084.66,1202.6 1093.01,1204.35 1101.37,1211.85 1109.72,1211.1 1118.07,1213.6 1126.43,1213.6 1134.78,1221.85 1143.13,1224.85 1151.49,1223.6 1159.84,1220.1 1168.19,1215.6 1176.55,1214.85 1184.9,1212.6 1184.9,1245.65 1176.55,1250.65 1168.19,1256.9 1159.84,1263.65 1151.49,1263.65 1143.13,1261.9 1134.78,1259.4 1126.43,1256.4 1118.07,1256.4 1109.72,1256.4 1101.37,1255.65 1093.01,1253.15 1084.66,1253.9 1076.31,1259.4 1067.95,1264.4 1059.6,1272.65 1051.25,1270.65 1042.89,1268.65 1034.54,1258.9 1026.19,1256.9 1017.83,1256.4 1009.48,1256.4 1001.13,1254.9 992.77,1257.65 984.42,1268.15 976.07,1281.9 967.71,1290.65 959.36,1286.4 951.01,1287.4 942.65,1280.65 934.3,1278.65 925.95,1271.4 917.59,1269.4 909.24,1266.9 900.88,1261.9 892.53,1254.4 884.18,1247.4 875.82,1243.9 867.47,1241.4 859.12,1243.9 850.76,1248.9 842.41,1253.9 834.06,1258.9 825.7,1264.4 817.35,1271.4 809,1276.9 800.64,1278.65 792.29,1281.9 783.94,1283.9 775.58,1290.15 767.23,1292.65 758.88,1292.4 750.52,1293.15 742.17,1295.15 733.82,1294.4 725.46,1291.9 717.11,1288.15 708.76,1286.9 700.4,1298.9 692.05,1306.4 683.7,1310.15 675.34,1305.65 666.99,1296.9 658.64,1286.9 650.28,1274.4 641.93,1270.15 633.58,1268.15 625.22,1264.4 616.87,1259.4 608.52,1255.15 600.16,1255.65 591.81,1255.65 583.46,1256.4 575.1,1253.15 566.75,1259.4 558.4,1260.65 550.04,1262.4 541.69,1259.4 533.34,1268.15 524.98,1278.15 516.63,1287.4 508.28,1292.4 499.92,1289.4 491.57,1284.4 483.22,1279.4 474.86,1273.15 466.51,1268.9 458.16,1263.65 449.8,1260.15 441.45,1262.4 433.1,1263.15 424.74,1265.15 416.39,1263.9 408.04,1260.65 399.68,1256.9 391.33,1253.15 382.98,1249.4 374.62,1250.65 366.27,1253.65 357.92,1256.4 349.56,1261.4 341.21,1266.15 332.85,1268.15 324.5,1269.4 316.15,1270.15 307.79,1270.65 299.44,1270.15 291.09,1266.9 282.73,1263.65 274.38,1263.15 266.03,1268.15 257.67,1273.15 249.32,1276.15 240.97,1278.15 232.61,1276.9 224.26,1271.4 215.91,1264.4 207.55,1264.4 199.2,1265.15 190.85,1269.4 182.49,1265.15 174.14,1263.9 165.79,1257.65 157.43,1256.4 149.08,1254.4 140.73,1254.4 132.37,1251.9 124.02,1248.9 115.67,1249.9 107.31,1248.15 98.96,1252.65 90.61,1253.65 82.25,1258.15 73.9,1253.9" fill="#ffd700" fill-opacity="0.75" stroke="#ffd700" stroke-opacity="0.75" stroke-width="1.39" stroke-linejoin="round" clip-path="url(#c3)"/>
<path d="M124.5 1361.5V1120.5M266.5 1361.5V1120.5M383.5 1361.5V1120.5M517.5 1361.5V1120.5M634.5 1361.5V1120.5M776.5 1361.5V1120.5M893.5 1361.5V1120.5M1026.5 1361.5V1120.5M1143.5 1361.5V1120.5M74 1150.5H1185M74 1181.5H1185M74 1211.5H1185M74 1241.5H1185M74 1271.5H1185M74 1301.5H1185M74 1331.5H1185" stroke="#b0b0b0" stroke-width="1.11" stroke-dasharray="4.11 1.78" fill="none"/>
<path d="M74 1241.5H1186" stroke="#000" stroke-width="0.72"/>
<g clip-path="url(#c3)" fill="none" stroke-linejoin="round">
<polyline points="73.9,1184.25 82.25,1189.25 90.61,1190.5 98.96,1187 107.31,1188.75 115.67,1194.5 124.02,1200.5 132.37,1196.75 140.73,1196.25 149.08,1198 157.43,1206.75 165.79,1201.25 174.14,1200 182.49,1197 190.85,1204.25 199.2,1199.25 207.55,1194.5 215.91,1190 224.26,1200.75 232.61,1208 240.97,1213 249.32,1209.5 257.67,1206.75 266.03,1199.5 274.38,1198.75 282.73,1200.75 291.09,1204.5 299.44,1209.25 307.79,1204.5 316.15,1208 324.5,1206.25 332.85,1212.5 341.21,1206.25 349.56,1200 357.92,1195.75 366.27,1191.75 374.62,1193.25 382.98,1193 391.33,1195.75 399.68,1197 408.04,1201.25 416.39,1206.25 424.74,1211.25 433.1,1212.5 441.45,1215.5 449.8,1213 458.16,1214.5 466.51,1213.75 474.86,1215 483.22,1208.75 491.57,1203.25 499.92,1205 508.28,1208.75 516.63,1213 524.98,1205 533.34,1198 541.69,1195.75 550.04,1190.75 558.4,1197.5 566.75,1199.25 575.1,1208 583.46,1206.25 591.81,1206.25 600.16,1203.75 608.52,1201.75 616.87,1199.5 625.22,1194.25 633.58,1193.75 641.93,1190.5 650.28,1198.75 658.64,1208.75 666.99,1215 675.34,1221.75 683.7,1220.75 692.05,1226.25 700.4,1226.75 708.76,1225.75 717.11,1228.75 725.46,1227.5 733.82,1234.5 742.17,1233.75 750.52,1235 758.88,1234.5 767.23,1234.5 775.58,1237 783.94,1223.75 792.29,1222.5 800.64,1214.25 809,1219.25 817.35,1211.25 825.7,1208 834.06,1203.75 842.41,1200.75 850.76,1195 859.12,1191.25 867.47,1194.25 875.82,1200.75 884.18,1205 892.53,1207 900.88,1205 909.24,1202 917.59,1199.5 925.95,1196.75 934.3,1206.75 942.65,1210 951.01,1220 959.36,1211.75 967.71,1213.25 976.07,1212.5 984.42,1211.75 992.77,1209.25 1001.13,1201.75 1009.48,1203.75 1017.83,1199.5 1026.19,1203.25 1034.54,1193.25 1042.89,1198.25 1051.25,1198.25 1059.6,1206.25 1067.95,1195 1076.31,1186.25 1084.66,1178.25 1093.01,1185.5 1101.37,1192 1109.72,1195 1118.07,1195.5 1126.43,1196.25 1134.78,1206.25 1143.13,1208 1151.49,1203.75 1159.84,1200 1168.19,1197.5 1176.55,1201.75 1184.9,1202" stroke="#f00" stroke-width="1.11"/>
<polyline points="73.9,1280.5 82.25,1285.5 90.61,1280 98.96,1282.5 107.31,1274.25 115.67,1274.25 124.02,1261.25 132.37,1263.25 140.73,1267.5 149.08,1270.5 157.43,1271.25 165.79,1276.75 174.14,1282.5 182.49,1290 190.85,1292.5 199.2,1290.5 207.55,1288.75 215.91,1291.25 224.26,1300 232.61,1303.75 240.97,1300.5 249.32,1291.75 257.67,1288.25 266.03,1288.75 274.38,1288 282.73,1294.25 291.09,1291.75 299.44,1301.25 307.79,1294.5 316.15,1297.5 324.5,1293.75 332.85,1297.5 341.21,1295 349.56,1288.75 357.92,1276.25 366.27,1276.75 374.62,1277 382.98,1279.5 391.33,1278.75 399.68,1279.25 408.04,1285 416.39,1289.25 424.74,1290 433.1,1287.5 441.45,1285.5 449.8,1282.5 458.16,1283.25 466.51,1287.5 474.86,1295 483.22,1310 491.57,1315 499.92,1323 508.28,1328.25 516.63,1325 524.98,1311.25 533.34,1290.75 541.69,1280.5 550.04,1288.25 558.4,1287.5 566.75,1290 575.1,1278.75 583.46,1278.25 591.81,1277 600.16,1280.5 608.52,1283 616.87,1288.25 625.22,1293.25 633.58,1297.5 641.93,1304.25 650.28,1311.75 658.64,1326.25 666.99,1337.5 675.34,1341.75 683.7,1341.75 692.05,1329.25 700.4,1324.5 708.76,1311.25 717.11,1307 725.46,1310.5 733.82,1317 742.17,1320.5 750.52,1316.25 758.88,1312 767.23,1315.5 775.58,1316.75 783.94,1310 792.29,1307.5 800.64,1304.5 809,1304.25 817.35,1296.25 825.7,1288.75 834.06,1287 842.41,1283.75 850.76,1273.75 859.12,1266.25 867.47,1259.5 875.82,1260.75 884.18,1264.25 892.53,1275.75 900.88,1287.5 909.24,1295 917.59,1301.25 925.95,1303 934.3,1311.25 942.65,1312 951.01,1322 959.36,1316.25 967.71,1318.75 976.07,1305 984.42,1300 992.77,1285 1001.13,1280.75 1009.48,1275.75 1017.83,1279.25 1026.19,1282 1034.54,1283.25 1042.89,1293.75 1051.25,1299.5 1059.6,1305.75 1067.95,1296.25 1076.31,1290 1084.66,1282 1093.01,1278 1101.37,1278 1109.72,1284.25 1118.07,1288 1126.43,1289.25 1134.78,1285.75 1143.13,1282.5 1151.49,1283.75 1159.84,1283.25 1168.19,1280.5 1176.55,1274.25 1184.9,1270" stroke="#f00" stroke-width="1.11"/>
<polyline points="73.9,1230.25 82.25,1235.88 90.61,1234.25 98.96,1232.62 107.31,1230.38 115.67,1232.5 124.02,1232.25 132.37,1233.38 140.73,1234.62 149.08,1235 157.43,1238.75 165.79,1239.75 174.14,1244.5 182.49,1243.5 190.85,1247.88 199.2,1244.75 207.55,1243.12 215.91,1242.25 224.26,1247 232.61,1252.75 240.97,1255.62 249.32,1255.88 257.67,1253.38 266.03,1246.25 274.38,1242.5 282.73,1241.5 291.09,1246.62 299.44,1248.88 307.79,1249.75 316.15,1248.25 324.5,1248.12 332.85,1247.88 341.21,1244.88 349.56,1239.75 357.92,1236 366.27,1233.62 374.62,1231.62 382.98,1231 391.33,1235.38 399.68,1239 408.04,1242.5 416.39,1245.12 424.74,1247 433.1,1245.62 441.45,1246.25 449.8,1243.5 458.16,1246.12 466.51,1249.75 474.86,1252.88 483.22,1256.88 491.57,1259.75 499.92,1263.5 508.28,1266.25 516.63,1263.38 524.98,1254.12 533.34,1244.75 541.69,1237.5 550.04,1240.88 558.4,1240.38 566.75,1239.75 575.1,1236.5 583.46,1238.5 591.81,1237.88 600.16,1236.62 608.52,1235.62 616.87,1238.38 625.22,1241.88 633.58,1245 641.93,1247.25 650.28,1252.25 658.64,1261.88 666.99,1269.75 675.34,1277.5 683.7,1282.62 692.05,1280.75 700.4,1275.12 708.76,1265.38 717.11,1267.12 725.46,1271.5 733.82,1275.25 742.17,1276.62 750.52,1274.62 758.88,1274.25 767.23,1273.5 775.58,1271 783.94,1263.5 792.29,1261.25 800.64,1257.75 809,1256.25 817.35,1250.75 825.7,1245.62 834.06,1241 842.41,1236.62 850.76,1232.88 859.12,1227.5 867.47,1226.62 875.82,1229.38 884.18,1232.75 892.53,1238.5 900.88,1242.5 909.24,1245 917.59,1245.25 925.95,1245.75 934.3,1253.38 942.65,1255.38 951.01,1262.5 959.36,1260.75 967.71,1265 976.07,1257.75 984.42,1247.5 992.77,1239.38 1001.13,1235.88 1009.48,1236.38 1017.83,1237.88 1026.19,1239.38 1034.54,1239.5 1042.89,1247.12 1051.25,1247.88 1059.6,1250.38 1067.95,1240.88 1076.31,1234.38 1084.66,1228.25 1093.01,1228.75 1101.37,1233.75 1109.72,1233.75 1118.07,1235 1126.43,1235 1134.78,1240.62 1143.13,1243.38 1151.49,1243.62 1159.84,1241.88 1168.19,1236.25 1176.55,1232.75 1184.9,1229.12" stroke="#00f" stroke-width="2.08"/>
<polyline points="73.9,1212.47 82.25,1210.66 90.61,1211.56 98.96,1214.57 107.31,1220.29 115.67,1224.51 124.02,1230.22 132.37,1237.75 140.73,1248.29 149.08,1260.93 157.43,1273.27 165.79,1282 174.14,1284.4 182.49,1281.7 190.85,1275.38 199.2,1265.14 207.55,1256.41 215.91,1252.8 224.26,1249.19 232.61,1240.46 240.97,1230.22 249.32,1228.72 257.67,1232.33 266.03,1234.74 274.38,1235.04 282.73,1238.05 291.09,1245.28 299.44,1251.3 307.79,1254.91 316.15,1254.61 324.5,1251.9 332.85,1246.48 341.21,1248.29 349.56,1257.32 357.92,1267.85 366.27,1269.66 374.62,1264.84 382.98,1260.93 391.33,1260.33 399.68,1260.63 408.04,1262.43 416.39,1264.24 424.74,1265.74 433.1,1263.94 441.45,1262.43 449.8,1260.33 458.16,1256.41 466.51,1249.19 474.86,1239.25 483.22,1231.43 491.57,1226.91 499.92,1230.53 508.28,1237.75 516.63,1239.56 524.98,1227.82 533.34,1214.27 541.69,1213.37 550.04,1218.34 558.4,1218.49 566.75,1210.66 575.1,1205.84 583.46,1203.59 591.81,1204.64 600.16,1207.95 608.52,1221.5 616.87,1232.93 625.22,1242.87 633.58,1251.6 641.93,1263.64 650.28,1275.38 658.64,1282 666.99,1283.2 675.34,1280.49 683.7,1277.78 692.05,1279.89 700.4,1284.71 708.76,1287.72 717.11,1285.91 725.46,1283.8 733.82,1286.21 742.17,1289.52 750.52,1288.62 758.88,1284.1 767.23,1277.78 775.58,1266.65 783.94,1249.79 792.29,1234.74 800.64,1229.62 809,1232.93 817.35,1243.47 825.7,1256.41 834.06,1269.05 842.41,1277.78 850.76,1282.3 859.12,1282.6 867.47,1278.69 875.82,1274.77 884.18,1275.38 892.53,1280.19 900.88,1285.91 909.24,1288.62 917.59,1282.9 925.95,1270.26 934.3,1257.92 942.65,1251.45 951.01,1249.19 959.36,1250.39 967.71,1249.79 976.07,1245.88 984.42,1235.94 992.77,1227.21 1001.13,1220.29 1009.48,1213.82 1017.83,1220.29 1026.19,1234.14 1034.54,1253.4 1042.89,1262.13 1051.25,1268.45 1059.6,1273.72 1067.95,1276.88" stroke="#000" stroke-width="2.78" stroke-linecap="square"/>
</g>
<rect x="74.5" y="1120.5" width="1111" height="241" fill="none" stroke="#000" stroke-width="1.11"/>
<path d="M124.5 1361.5v5M266.5 1361.5v5M383.5 1361.5v5M517.5 1361.5v5M634.5 1361.5v5M776.5 1361.5v5M893.5 1361.5v5M1026.5 1361.5v5M1143.5 1361.5v5M74.5 1120.5h-5M74.5 1150.5h-5M74.5 1181.5h-5M74.5 1211.5h-5M74.5 1241.5h-5M74.5 1271.5h-5M74.5 1301.5h-5M74.5 1331.5h-5M74.5 1361.5h-5" stroke="#000" stroke-width="1.11" fill="none"/>
</g>
<g style="opacity:0.999" font-family="'Liberation Sans', sans-serif" fill="#000">
<text transform="translate(260.19 51) scale(1.1500 1)" font-size="30.56" x="-0 21.3 41.98 65.49 75.05 84.31 103.17 122.43 139.93 157.14 167.88 176.11 199.37 217.6 234.5 252.54 265.15 282.76 300.35 319.51 328.92 351.91 359.76 381.34 400.24 417.97 438.1 446.11 463.67 482.65 495.59 512.39 529.13 545.97 563.68 574.52" font-weight="bold" fill="#00f" stroke="#00f" stroke-width="0.38">NAO Index: Observed &amp; GEFS Forecasts</text>
<text transform="translate(74 132) scale(1.0639 1)" font-size="26.5" x="0.03 14.9 29.82 45.07 67.65 82.56 89.95 106.17 113.79 121.7 141.32 155.69 168.74 176.43 183.97 198.89 212.93 229.91 244.83 259.81 274.79 289.77 304.69 319.54 326.86 335.64 343.17 358.15 372.58 391.11 405.54 418.78 433.76 448.74 463.66 478.6">500mb Z (Obs: 09Aug2025 - 06Dec2025)</text>
<text transform="translate(1028 132) scale(1.0970 1)" font-size="22.08" x="0.03 18.19 29.87 41.66 55.37 69.59 76.59 88.72 94.7 106.73 118.75 130.84">mean=-0.3816</text>
<text transform="translate(35.22 294.31) rotate(-90) scale(1.1252 1)" font-size="22.22" x="-0.2 5.87 18.43 30.59 42.96">Index</text>
<text transform="translate(98.56 402) scale(1.0514 1)" font-size="14.72" x="0.13 8.51 16.8 20.53 30.03 38.38">15 Aug</text>
<text transform="translate(242.07 402) scale(1.0299 1)" font-size="14.72" x="0.15 8.71 17.19 20.7 29.89 38.29">01 Sep</text>
<text transform="translate(359.01 402) scale(1.0299 1)" font-size="14.72" x="0.21 8.77 17.19 20.7 29.89 38.29">15 Sep</text>
<text transform="translate(493.73 402) scale(1.0593 1)" font-size="14.72" x="0.04 8.36 16.66 20.18 30.95 38.76">01 Oct</text>
<text transform="translate(610.68 402) scale(1.0593 1)" font-size="14.72" x="0.1 8.41 16.66 20.18 30.95 38.76">15 Oct</text>
<text transform="translate(751.12 402) scale(1.0523 1)" font-size="14.72" x="0.06 8.44 16.78 20.52 30.71 39.06">01 Nov</text>
<text transform="translate(868.07 402) scale(1.0523 1)" font-size="14.72" x="0.12 8.5 16.78 20.52 30.71 39.06">15 Nov</text>
<text transform="translate(1001.85 402) scale(1.0478 1)" font-size="14.72" x="0.08 8.49 16.86 20.81 31.22 39.33">01 Dec</text>
<text transform="translate(1118.8 402) scale(1.0478 1)" font-size="14.72" x="0.14 8.55 16.86 20.81 31.22 39.33">15 Dec</text>
<text transform="translate(43.9 386) scale(1.2185 1)" font-size="14.72" x="0.47 9.07">−4</text>
<text transform="translate(43.9 356) scale(1.2185 1)" font-size="14.72" x="0.47 9.07">−3</text>
<text transform="translate(43.9 326) scale(1.2185 1)" font-size="14.72" x="0.47 9.07">−2</text>
<text transform="translate(43.78 296) scale(1.2185 1)" font-size="14.72" x="0.47 9.07">−1</text>
<text transform="translate(55.53 266) scale(1.0782 1)" font-size="14.72" x="0">0</text>
<text transform="translate(55.4 236) scale(1.0782 1)" font-size="14.72" x="0">1</text>
<text transform="translate(55.53 206) scale(1.0782 1)" font-size="14.72" x="0">2</text>
<text transform="translate(55.53 176) scale(1.0782 1)" font-size="14.72" x="0">3</text>
<text transform="translate(55.53 146) scale(1.0782 1)" font-size="14.72" x="0">4</text>
<text transform="translate(74 458) scale(1.0632 1)" font-size="26.5" x="0.04 14.91 29.84 45.1 67.7 82.62 90.02 106.25 113.86 122.96 137.87 145.42 160.05 174.91 188.55 194.31 208.61 223.38 232.3 246.74 259.64 273.72 287.43 295.87">500mb Z (7 day Forecast)</text>
<text transform="translate(813.5 458) scale(1.0962 1)" font-size="22.08" x="0.04 18.21 29.89 41.7 55.41 69.65 76.65 88.79 94.78 106.87 118.95 131.04 143.35 149.56 155.38 165.82 178.03 185.67 192.89 208.8 214.74 226.6 238.22 248.73 257.71 272.1 284.24 290.29 302.43 314.52 326.62">mean=-0.3155; cor(w/obs)=0.9146</text>
<text transform="translate(35.22 621.08) rotate(-90) scale(1.1252 1)" font-size="22.22" x="-0.2 5.87 18.43 30.59 42.96">Index</text>
<text transform="translate(98.56 728) scale(1.0514 1)" font-size="14.72" x="0.13 8.51 16.8 20.53 30.03 38.38">15 Aug</text>
<text transform="translate(242.07 728) scale(1.0299 1)" font-size="14.72" x="0.15 8.71 17.19 20.7 29.89 38.29">01 Sep</text>
<text transform="translate(359.01 728) scale(1.0299 1)" font-size="14.72" x="0.21 8.77 17.19 20.7 29.89 38.29">15 Sep</text>
<text transform="translate(493.73 728) scale(1.0593 1)" font-size="14.72" x="0.04 8.36 16.66 20.18 30.95 38.76">01 Oct</text>
<text transform="translate(610.68 728) scale(1.0593 1)" font-size="14.72" x="0.1 8.41 16.66 20.18 30.95 38.76">15 Oct</text>
<text transform="translate(751.12 728) scale(1.0523 1)" font-size="14.72" x="0.06 8.44 16.78 20.52 30.71 39.06">01 Nov</text>
<text transform="translate(868.07 728) scale(1.0523 1)" font-size="14.72" x="0.12 8.5 16.78 20.52 30.71 39.06">15 Nov</text>
<text transform="translate(1001.85 728) scale(1.0478 1)" font-size="14.72" x="0.08 8.49 16.86 20.81 31.22 39.33">01 Dec</text>
<text transform="translate(1118.8 728) scale(1.0478 1)" font-size="14.72" x="0.14 8.55 16.86 20.81 31.22 39.33">15 Dec</text>
<text transform="translate(43.9 713) scale(1.2185 1)" font-size="14.72" x="0.47 9.07">−4</text>
<text transform="translate(43.9 683) scale(1.2185 1)" font-size="14.72" x="0.47 9.07">−3</text>
<text transform="translate(43.9 653) scale(1.2185 1)" font-size="14.72" x="0.47 9.07">−2</text>
<text transform="translate(43.78 623) scale(1.2185 1)" font-size="14.72" x="0.47 9.07">−1</text>
<text transform="translate(55.53 593) scale(1.0782 1)" font-size="14.72" x="0">0</text>
<text transform="translate(55.4 563) scale(1.0782 1)" font-size="14.72" x="0">1</text>
<text transform="translate(55.53 533) scale(1.0782 1)" font-size="14.72" x="0">2</text>
<text transform="translate(55.53 502) scale(1.0782 1)" font-size="14.72" x="0">3</text>
<text transform="translate(55.53 472) scale(1.0782 1)" font-size="14.72" x="0">4</text>
<text transform="translate(74 785) scale(1.0638 1)" font-size="26.5" x="0.03 14.9 29.82 45.07 67.66 82.56 89.96 106.18 113.79 122.88 137.8 152.71 160.25 174.87 189.72 203.35 209.11 223.4 238.17 247.08 261.51 274.4 288.48 302.17 310.61">500mb Z (10 day Forecast)</text>
<text transform="translate(813.75 785) scale(1.0958 1)" font-size="22.08" x="0.04 18.21 29.91 41.71 55.44 69.67 76.67 88.82 94.81 106.9 118.94 130.97 143.29 149.5 155.32 165.76 177.98 185.62 192.85 208.76 214.7 226.56 238.19 248.71 257.68 272.08 284.22 290.27 302.42 314.51 326.62">mean=-0.2484; cor(w/obs)=0.6227</text>
<text transform="translate(35.22 947.85) rotate(-90) scale(1.1252 1)" font-size="22.22" x="-0.2 5.87 18.43 30.59 42.96">Index</text>
<text transform="translate(98.56 1055) scale(1.0514 1)" font-size="14.72" x="0.13 8.51 16.8 20.53 30.03 38.38">15 Aug</text>
<text transform="translate(242.07 1055) scale(1.0299 1)" font-size="14.72" x="0.15 8.71 17.19 20.7 29.89 38.29">01 Sep</text>
<text transform="translate(359.01 1055) scale(1.0299 1)" font-size="14.72" x="0.21 8.77 17.19 20.7 29.89 38.29">15 Sep</text>
<text transform="translate(493.73 1055) scale(1.0593 1)" font-size="14.72" x="0.04 8.36 16.66 20.18 30.95 38.76">01 Oct</text>
<text transform="translate(610.68 1055) scale(1.0593 1)" font-size="14.72" x="0.1 8.41 16.66 20.18 30.95 38.76">15 Oct</text>
<text transform="translate(751.12 1055) scale(1.0523 1)" font-size="14.72" x="0.06 8.44 16.78 20.52 30.71 39.06">01 Nov</text>
<text transform="translate(868.07 1055) scale(1.0523 1)" font-size="14.72" x="0.12 8.5 16.78 20.52 30.71 39.06">15 Nov</text>
<text transform="translate(1001.85 1055) scale(1.0478 1)" font-size="14.72" x="0.08 8.49 16.86 20.81 31.22 39.33">01 Dec</text>
<text transform="translate(1118.8 1055) scale(1.0478 1)" font-size="14.72" x="0.14 8.55 16.86 20.81 31.22 39.33">15 Dec</text>
<text transform="translate(43.9 1040) scale(1.2185 1)" font-size="14.72" x="0.47 9.07">−4</text>
<text transform="translate(43.9 1010) scale(1.2185 1)" font-size="14.72" x="0.47 9.07">−3</text>
<text transform="translate(43.9 980) scale(1.2185 1)" font-size="14.72" x="0.47 9.07">−2</text>
<text transform="translate(43.78 950) scale(1.2185 1)" font-size="14.72" x="0.47 9.07">−1</text>
<text transform="translate(55.53 919) scale(1.0782 1)" font-size="14.72" x="0">0</text>
<text transform="translate(55.4 889) scale(1.0782 1)" font-size="14.72" x="0">1</text>
<text transform="translate(55.53 859) scale(1.0782 1)" font-size="14.72" x="0">2</text>
<text transform="translate(55.53 829) scale(1.0782 1)" font-size="14.72" x="0">3</text>
<text transform="translate(55.53 799) scale(1.0782 1)" font-size="14.72" x="0">4</text>
<text transform="translate(74 1112) scale(1.0642 1)" font-size="26.5" x="0.03 14.89 29.81 45.05 67.63 82.53 89.92 106.14 113.75 122.83 137.81 152.77 160.3 174.92 189.76 203.4 209.14 223.43 238.2 247.1 261.53 274.41 288.49 302.18 310.61">500mb Z (14 day Forecast)</text>
<text transform="translate(840.25 1112) scale(1.0971 1)" font-size="22.08" x="0.03 18.18 29.86 41.65 55.36 69.58 76.57 88.71 94.69 106.77 118.84 130.92 143.22 149.43 155.24 165.67 177.88 185.51 192.72 208.62 214.55 226.4 238.01 248.51 257.48 271.86 283.99 289.97 302.06">mean=-0.2207; cor(w/obs)=0.34</text>
<text transform="translate(35.22 1274.62) rotate(-90) scale(1.1252 1)" font-size="22.22" x="-0.2 5.87 18.43 30.59 42.96">Index</text>
<text transform="translate(98.56 1382) scale(1.0514 1)" font-size="14.72" x="0.13 8.51 16.8 20.53 30.03 38.38">15 Aug</text>
<text transform="translate(242.07 1382) scale(1.0299 1)" font-size="14.72" x="0.15 8.71 17.19 20.7 29.89 38.29">01 Sep</text>
<text transform="translate(359.01 1382) scale(1.0299 1)" font-size="14.72" x="0.21 8.77 17.19 20.7 29.89 38.29">15 Sep</text>
<text transform="translate(493.73 1382) scale(1.0593 1)" font-size="14.72" x="0.04 8.36 16.66 20.18 30.95 38.76">01 Oct</text>
<text transform="translate(610.68 1382) scale(1.0593 1)" font-size="14.72" x="0.1 8.41 16.66 20.18 30.95 38.76">15 Oct</text>
<text transform="translate(751.12 1382) scale(1.0523 1)" font-size="14.72" x="0.06 8.44 16.78 20.52 30.71 39.06">01 Nov</text>
<text transform="translate(868.07 1382) scale(1.0523 1)" font-size="14.72" x="0.12 8.5 16.78 20.52 30.71 39.06">15 Nov</text>
<text transform="translate(1001.85 1382) scale(1.0478 1)" font-size="14.72" x="0.08 8.49 16.86 20.81 31.22 39.33">01 Dec</text>
<text transform="translate(1118.8 1382) scale(1.0478 1)" font-size="14.72" x="0.14 8.55 16.86 20.81 31.22 39.33">15 Dec</text>
<text transform="translate(43.9 1367) scale(1.2185 1)" font-size="14.72" x="0.47 9.07">−4</text>
<text transform="translate(43.9 1337) scale(1.2185 1)" font-size="14.72" x="0.47 9.07">−3</text>
<text transform="translate(43.9 1306) scale(1.2185 1)" font-size="14.72" x="0.47 9.07">−2</text>
<text transform="translate(43.78 1276) scale(1.2185 1)" font-size="14.72" x="0.47 9.07">−1</text>
<text transform="translate(55.53 1246) scale(1.0782 1)" font-size="14.72" x="0">0</text>
<text transform="translate(55.4 1216) scale(1.0782 1)" font-size="14.72" x="0">1</text>
<text transform="translate(55.53 1186) scale(1.0782 1)" font-size="14.72" x="0">2</text>
<text transform="translate(55.53 1156) scale(1.0782 1)" font-size="14.72" x="0">3</text>
<text transform="translate(55.53 1126) scale(1.0782 1)" font-size="14.72" x="0">4</text>
</g>
</svg>
</body></html>
